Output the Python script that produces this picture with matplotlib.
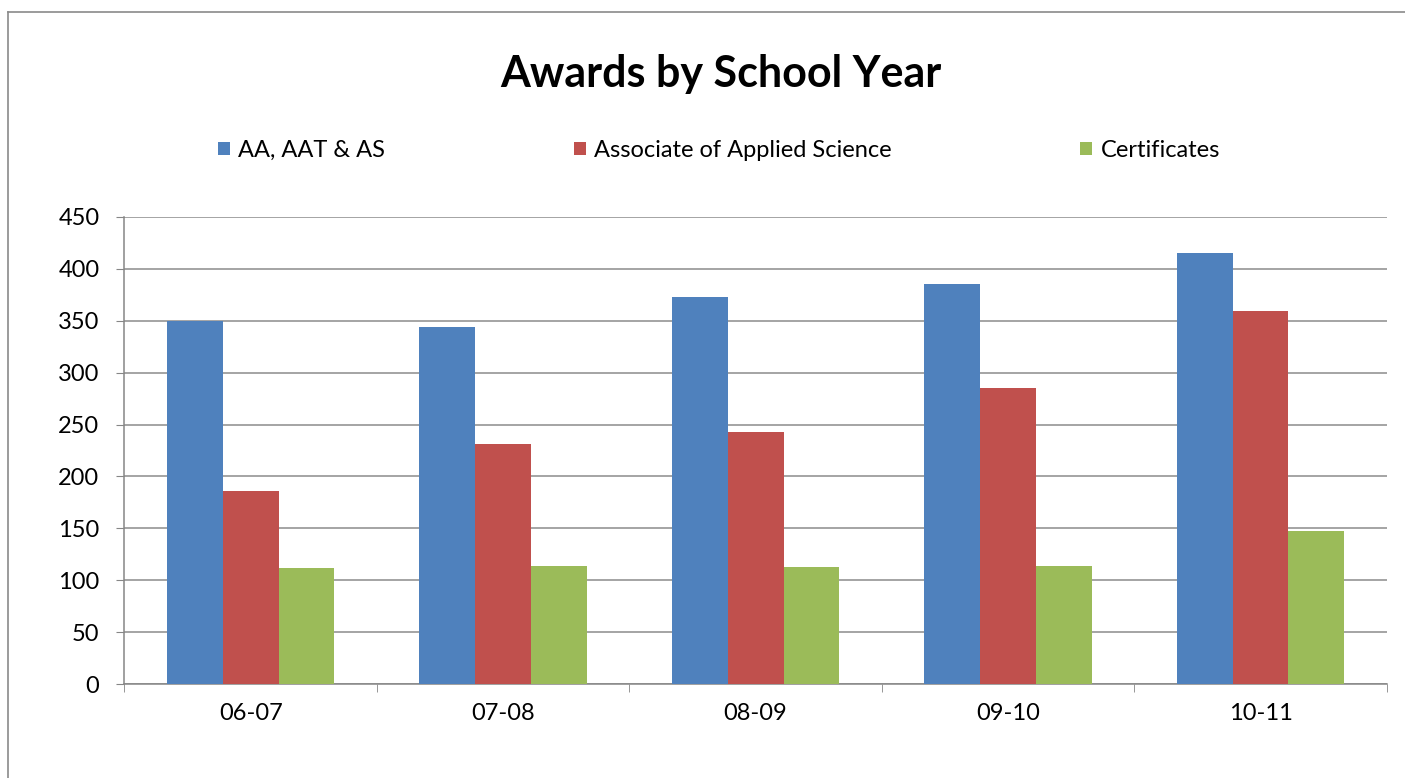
import matplotlib

matplotlib.use("Agg")
import matplotlib.pyplot as plt
import numpy as np
from matplotlib.lines import Line2D

plt.rcParams["font.family"] = ["Lato", "DejaVu Sans"]

years = ["06-07", "07-08", "08-09", "09-10", "10-11"]
series_names = ["AA, AAT & AS", "Associate of Applied Science", "Certificates"]
aa_aat_as = [350, 344, 373, 385, 415]
applied_science = [186, 231, 243, 285, 359]
certificates = [112, 114, 113, 114, 147]
colors = ["#4F81BD", "#C0504D", "#9BBB59"]

fig = plt.figure(figsize=(14.05, 7.78), dpi=100)
ax = fig.add_axes([0.0886, 0.1208, 0.8984, 0.6003])

x = np.arange(len(years))
width = 0.221
for i, (vals, name) in enumerate(zip([aa_aat_as, applied_science, certificates], series_names)):
    ax.bar(x + (i - 1) * width, vals, width, color=colors[i], label=name, zorder=3)

ax.set_xlim(-0.5, len(years) - 0.5)
ax.set_ylim(0, 450)
ax.set_yticks(np.arange(0, 451, 50))
ax.set_xticks(x)
ax.set_xticklabels(years)
ax.set_xticks(np.arange(-0.5, len(years), 1), minor=True)
ax.tick_params(axis="x", which="major", length=0, pad=14, labelsize=17)
ax.tick_params(axis="x", which="minor", length=6, color="#868686", direction="out")
ax.tick_params(axis="y", length=6, color="#868686", labelsize=17, pad=12)
ax.grid(axis="y", color="#8c8c8c", linewidth=1.1, zorder=0)
for s in ["top", "right"]:
    ax.spines[s].set_visible(False)
for s in ["left", "bottom"]:
    ax.spines[s].set_color("#868686")
    ax.spines[s].set_linewidth(1.1)

fig.text(0.513, 0.905, "Awards by School Year", ha="center", va="center",
         fontsize=31, fontweight="bold")

leg = fig.legend(loc="center left", bbox_to_anchor=(0.140, 0.807), ncol=3,
                 frameon=False, fontsize=17, handlelength=0.5, handleheight=0.5,
                 handletextpad=0.35, columnspacing=8.0)

# chart border
fig.add_artist(Line2D([8 / 1405, 8 / 1405], [0, 1 - 12 / 778], color="#8a8a8a", lw=1.2))
fig.add_artist(Line2D([8 / 1405, 1], [1 - 12 / 778, 1 - 12 / 778], color="#8a8a8a", lw=1.2))

fig.savefig("out.png", dpi=100)
